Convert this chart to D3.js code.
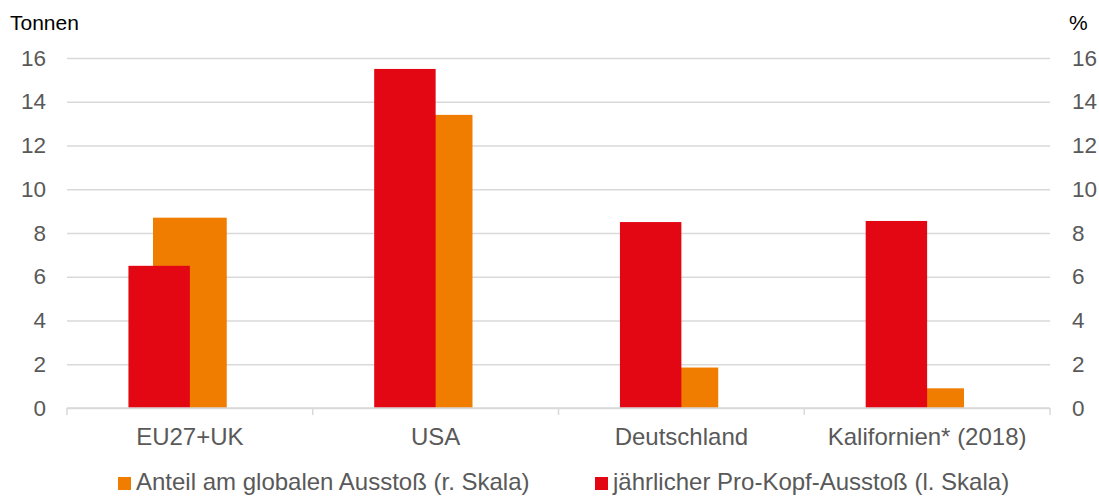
<!DOCTYPE html>
<html>
<head>
<meta charset="utf-8">
<script src="https://cdnjs.cloudflare.com/ajax/libs/d3/7.8.5/d3.min.js"></script>
<style>
  body { margin: 0; background: #fff; }
  svg text { font-family: "Liberation Sans", Arial, sans-serif; }
</style>
</head>
<body>
<svg id="chart" width="1099" height="496"></svg>
<script>
/* data */
var categories = ['EU27+UK', 'USA', 'Deutschland', 'Kalifornien* (2018)'];
var perCapita = [6.5, 15.5, 8.5, 8.55];      // Tonnen, linke Skala
var globalShare = [8.7, 13.4, 1.85, 0.9];    // %, rechte Skala
var yTicks = [0, 2, 4, 6, 8, 10, 12, 14, 16];
var seriesNames = ['Anteil am globalen Ausstoß (r. Skala)', 'jährlicher Pro-Kopf-Ausstoß (l. Skala)'];

var red = '#e30613', orange = '#f07d00', grey = '#595959', grid = '#d9d9d9';

var svg = d3.select('#chart'),
    plotLeft = 67, plotRight = 1050, plotTop = 58, plotBottom = 408;

var x = d3.scaleBand().domain(categories).range([plotLeft, plotRight]).padding(0);
var yL = d3.scaleLinear().domain([0, 16]).range([plotBottom, plotTop]);
var yR = d3.scaleLinear().domain([0, 16]).range([plotBottom, plotTop]);

/* gridlines */
svg.append('g')
    .attr('transform', 'translate(' + plotLeft + ',0)')
    .call(d3.axisLeft(yL).tickValues(yTicks).tickSize(-(plotRight - plotLeft)).tickFormat(''))
    .call(function(g) {
      g.select('.domain').remove();
      g.selectAll('line').attr('stroke', grid).attr('stroke-width', 1.5);
    });

/* left tick labels */
svg.append('g')
    .attr('transform', 'translate(' + plotLeft + ',0)')
    .call(d3.axisLeft(yL).tickValues(yTicks).tickSize(0).tickPadding(21))
    .call(function(g) {
      g.select('.domain').remove();
      g.selectAll('text').attr('fill', grey).style('font-size', '22.5px');
    });

/* right tick labels */
svg.append('g')
    .attr('transform', 'translate(' + plotRight + ',0)')
    .call(d3.axisRight(yR).tickValues(yTicks).tickSize(0).tickPadding(22))
    .call(function(g) {
      g.select('.domain').remove();
      g.selectAll('text').attr('fill', grey).style('font-size', '22.5px');
    });

var bw = x.bandwidth();

/* orange bars (secondary axis, behind) */
svg.selectAll('.share')
  .data(globalShare)
  .enter().append('rect')
    .attr('class', 'share')
    .attr('x', function(d, i) { return x(categories[i]) + bw / 2 - bw * 0.15; })
    .attr('y', function(d) { return yR(d); })
    .attr('width', bw * 0.30)
    .attr('height', function(d) { return plotBottom - yR(d); })
    .attr('fill', orange);

/* red bars (primary axis) */
svg.selectAll('.capita')
  .data(perCapita)
  .enter().append('rect')
    .attr('class', 'capita')
    .attr('x', function(d, i) { return x(categories[i]) + bw / 2 - bw * 0.25; })
    .attr('y', function(d) { return yL(d); })
    .attr('width', bw * 0.25)
    .attr('height', function(d) { return plotBottom - yL(d); })
    .attr('fill', red);

/* x axis */
svg.append('line')
    .attr('x1', plotLeft).attr('x2', plotRight).attr('y1', plotBottom).attr('y2', plotBottom)
    .attr('stroke', grid).attr('stroke-width', 1.5);

svg.selectAll('.xtick')
  .data(d3.range(categories.length + 1))
  .enter().append('line')
    .attr('x1', function(i) { return plotLeft + i * bw; })
    .attr('x2', function(i) { return plotLeft + i * bw; })
    .attr('y1', plotBottom).attr('y2', plotBottom + 7)
    .attr('stroke', grid).attr('stroke-width', 1.5);

svg.selectAll('.xlabel')
  .data(categories)
  .enter().append('text')
    .attr('x', function(d) { return x(d) + bw / 2; })
    .attr('y', 445)
    .attr('text-anchor', 'middle')
    .attr('fill', grey)
    .style('font-size', '24px')
    .text(function(d) { return d; });

/* axis titles */
svg.append('text').attr('x', 10).attr('y', 30).attr('fill', '#000')
    .style('font-size', '21px').text('Tonnen');
svg.append('text').attr('x', 1069).attr('y', 30).attr('fill', '#000')
    .style('font-size', '21px').text('%');

/* legend */
var legendPos = [118, 595];
var legendColors = [orange, red];
var lg = svg.selectAll('.legend')
  .data(seriesNames)
  .enter().append('g')
    .attr('class', 'legend')
    .attr('transform', function(d, i) { return 'translate(' + legendPos[i] + ',0)'; });

lg.append('rect')
    .attr('x', 0).attr('y', 477).attr('width', 13).attr('height', 13)
    .attr('fill', function(d, i) { return legendColors[i]; });

lg.append('text')
    .attr('x', 18).attr('y', 490)
    .attr('fill', grey)
    .style('font-size', '24px')
    .text(function(d) { return d; });
</script>
</body>
</html>
